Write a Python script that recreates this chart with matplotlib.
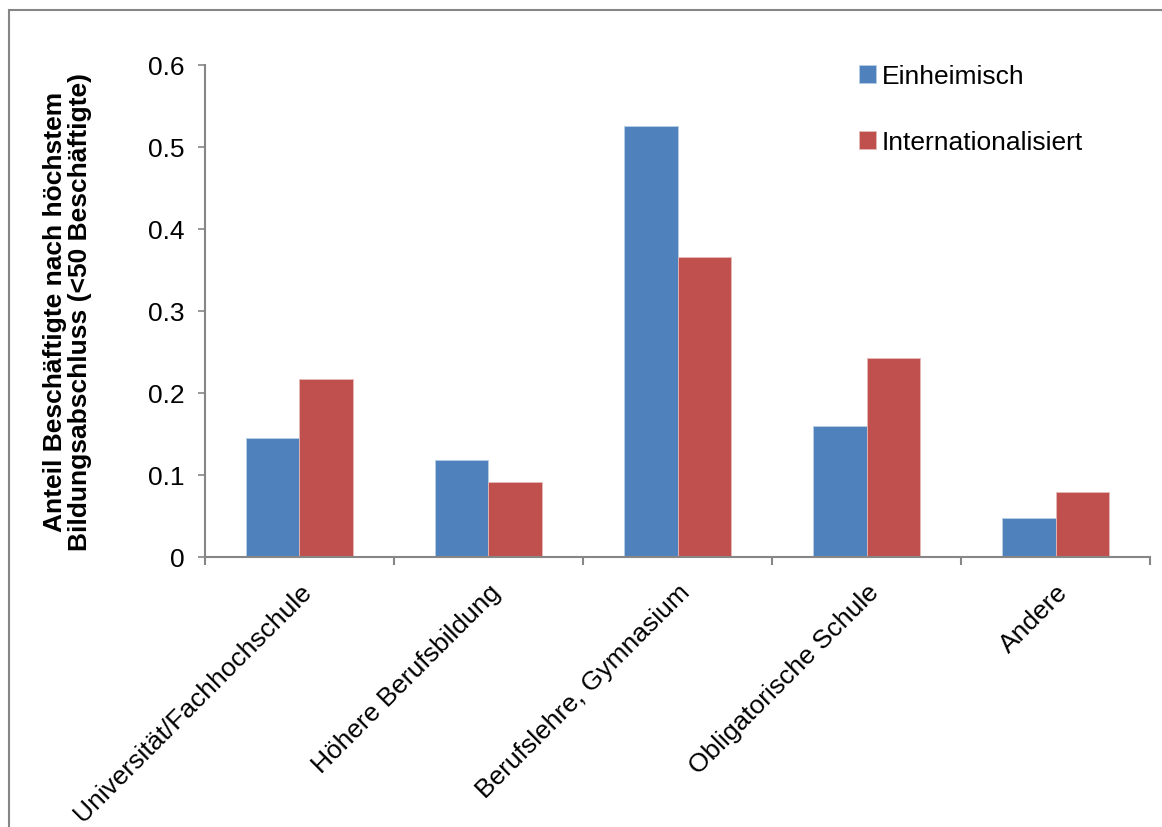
# Bar chart: Anteil Beschäftigte nach höchstem Bildungsabschluss
import numpy as np
import matplotlib.pyplot as plt
from matplotlib.patches import Rectangle

plt.rcParams['font.family'] = ['Liberation Sans', 'DejaVu Sans']

# Data
categories = ['Universität/Fachhochschule', 'Höhere Berufsbildung',
              'Berufslehre, Gymnasium', 'Obligatorische Schule', 'Andere']
einheimisch = [0.145, 0.118, 0.526, 0.160, 0.048]
international = [0.217, 0.091, 0.366, 0.243, 0.079]
series_names = ['Einheimisch', 'Internationalisiert']
yticks = [0, 0.1, 0.2, 0.3, 0.4, 0.5, 0.6]

blue = '#4F81BD'
red = '#C0504D'
grey = '#868686'
fs = 19

fig = plt.figure(figsize=(11.62, 8.28), dpi=100)
ax = fig.add_axes([0.1764, 0.3261, 0.8133, 0.5942])

x = np.arange(len(categories))
w = 0.283
ax.bar(x - w / 2, einheimisch, w, color=blue, edgecolor='#B9CDE5', linewidth=0.6, label=series_names[0])
ax.bar(x + w / 2, international, w, color=red, edgecolor='#E6B9B8', linewidth=0.6, label=series_names[1])

ax.set_xlim(-0.5, len(categories) - 0.5)
ax.set_ylim(0, 0.6)
ax.set_yticks(yticks)
ax.set_yticklabels(['0', '0.1', '0.2', '0.3', '0.4', '0.5', '0.6'], fontsize=fs)

# category labels centered, boundary ticks
ax.set_xticks(x)
ax.set_xticklabels(categories, rotation=45, ha='right', va='top',
                   rotation_mode='anchor', fontsize=fs)
ax.tick_params(axis='x', length=0, pad=16)
ax.set_xticks(np.arange(-0.5, len(categories)), minor=True)
ax.tick_params(axis='x', which='minor', length=6, width=1.5, color=grey)
ax.tick_params(axis='y', length=5, width=1.2, color=grey, pad=10)

for s in ['top', 'right']:
    ax.spines[s].set_visible(False)
for s in ['left', 'bottom']:
    ax.spines[s].set_color(grey)
    ax.spines[s].set_linewidth(1.5)

ax.set_ylabel('Anteil Beschäftigte nach höchstem\nBildungsabschluss (<50 Beschäftigte)',
              fontsize=fs, fontweight='bold', labelpad=40, linespacing=1.05)

ax.legend(loc='upper left', bbox_to_anchor=(0.667, 1.05), frameon=False,
          fontsize=fs, handlelength=0.65, handleheight=0.65, handletextpad=0.2,
          labelspacing=1.6)

# outer frame
fig.patches.append(Rectangle((9 / 1162, -0.05), 1.2, 0.05 + 1 - 11 / 828,
                             transform=fig.transFigure, fill=False,
                             edgecolor=grey, linewidth=1.5, zorder=0))

fig.savefig('out.png', dpi=100)
